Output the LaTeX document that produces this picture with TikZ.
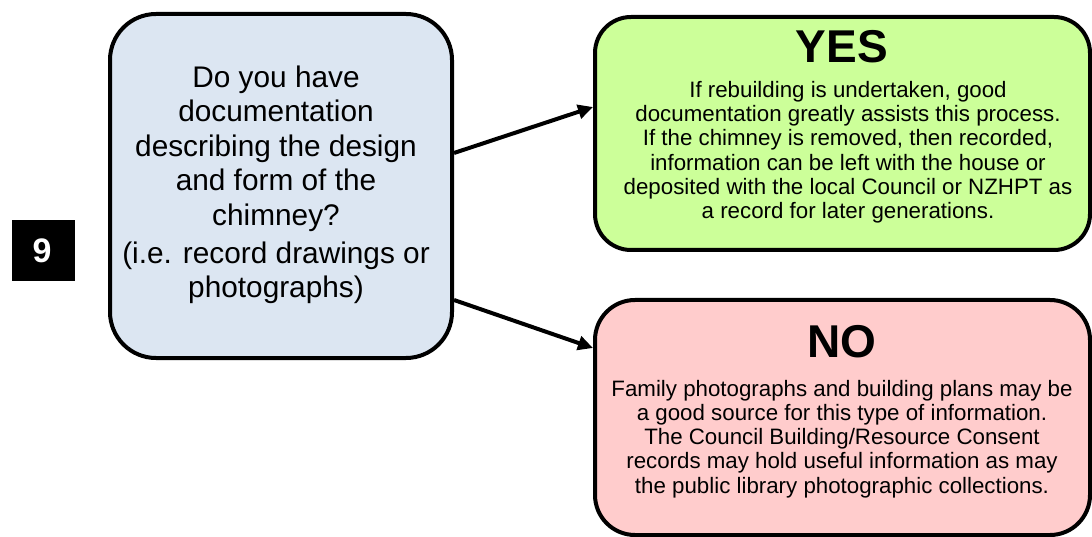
\documentclass[tikz,border=0pt]{standalone}
\usepackage{fontspec}
\setmainfont{Liberation Sans}
\usetikzlibrary{arrows.meta}
\definecolor{qblue}{RGB}{220,230,242}
\definecolor{yesgreen}{RGB}{204,255,153}
\definecolor{nopink}{RGB}{255,204,204}
\begin{document}
\begin{tikzpicture}[x=1pt,y=-1pt,
  box/.style={draw=black, line width=4pt, inner sep=0pt, rectangle},
  link/.style={line width=4pt, -{Triangle[length=15pt,width=14pt]}},
  % multi-line texts are placed by the baseline of their last line
  question/.style={align=center, anchor=base, inner sep=0pt,
    font=\fontsize{29.8}{34.5}\selectfont},
  title/.style={anchor=base, inner sep=0pt, font=\fontsize{46}{50}\selectfont\bfseries},
  body/.style={align=center, anchor=base, inner sep=0pt,
    font=\fontsize{22.3}{24.2}\selectfont}]
\useasboundingbox (0,0) rectangle (1092,537);

% step number tag
\node[fill=black, minimum width=63pt, minimum height=61pt, inner sep=0pt] (tag) at (43.5,250.5) {};
\node[text=white, inner sep=0pt, font=\fontsize{34}{40}\selectfont\bfseries] (tagnum) at (42,250.5) {9};

% question box
\node[box, fill=qblue, rounded corners=46pt, minimum width=342pt, minimum height=344pt] (q) at (281,186) {};
\node[question] (qtext) at (276,298) {Do you have\\documentation\\describing the design\\and form of the\\chimney?\\[3.5pt](i.e. record drawings or\\photographs)};

% answer boxes
\node[box, fill=yesgreen, rounded corners=36pt, minimum width=495pt, minimum height=233pt] (yes) at (842.5,133.5) {};
\node[title] (yestitle) at (842,63) {YES};
\node[body] (yestext) at (848,218.5) {If rebuilding is undertaken, good\\documentation greatly assists this process.\\If the chimney is removed, then recorded,\\information can be left with the house or\\deposited with the local Council or NZHPT as\\a record for later generations.};

\node[box, fill=nopink, rounded corners=40pt, minimum width=495pt, minimum height=235pt] (no) at (842.5,417.5) {};
\node[title] (notitle) at (842,357) {NO};
\node[body] (notext) at (842,493) {Family photographs and building plans may be\\a good source for this type of information.\\The Council Building/Resource Consent\\records may hold useful information as may\\the public library photographic collections.};

% connectors
\draw[link] ([yshift=33pt]q.east) -- ([yshift=26.5pt]yes.west);
\draw[link] ([yshift=-114pt]q.east) -- ([yshift=69.5pt]no.west);
\end{tikzpicture}
\end{document}
